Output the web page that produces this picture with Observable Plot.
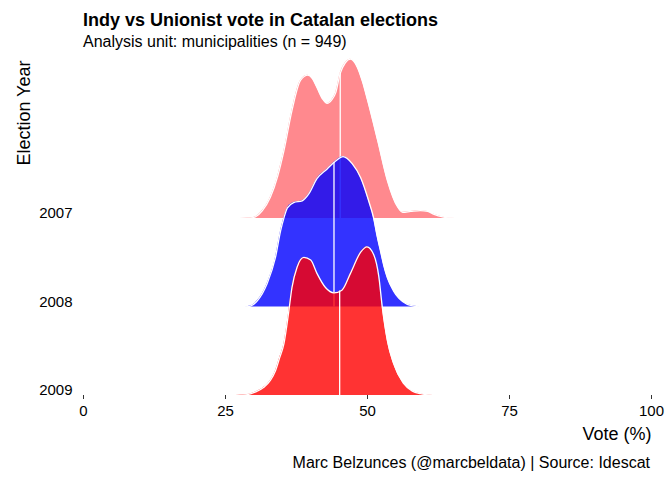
<!DOCTYPE html>
<html>
<head>
<meta charset="utf-8">
<script src="https://cdn.jsdelivr.net/npm/d3@7"></script>
<script src="https://cdn.jsdelivr.net/npm/@observablehq/plot@0.6"></script>
<style>
  body { margin: 0; background: #fff; font-family: "Liberation Sans", Arial, Helvetica, sans-serif; }
  #wrap { position: relative; width: 672px; height: 480px; overflow: hidden; }
  .t { position: absolute; white-space: nowrap; color: #000; line-height: 1; }
  #title { left: 83px; top: 11px; font-size: 18px; font-weight: bold; }
  #subtitle { left: 83px; top: 34px; font-size: 16px; }
  #caption { right: 22px; top: 455px; font-size: 16px; }
  #chart { position: absolute; left: 0; top: 52px; }
</style>
</head>
<body>
<div id="wrap">
  <div id="title" class="t">Indy vs Unionist vote in Catalan elections</div>
  <div id="subtitle" class="t">Analysis unit: municipalities (n = 949)</div>
  <div id="chart"></div>
  <div id="caption" class="t">Marc Belzunces (@marcbeldata) | Source: Idescat</div>
</div>
<script>
// ---- Data ----
const years = ["2007", "2008", "2009"];

// density heights, in units of ridge spacing
const vote2007 = [27.6, 29.4, 30.3, 31.5, 32.9, 34.2, 35.3, 36.7, 38.2, 39.5, 40.3, 41.1, 42.1, 42.9, 43.7, 44.4, 45.2, 46.1, 47.0, 48.2, 49.1, 50.0, 51.8, 53.5, 55.3, 56.2, 57.6, 59.3, 60.6, 61.6, 63.4, 65.5];
const dens2007 = [0, 0.005, 0.02, 0.09, 0.24, 0.48, 0.77, 1.22, 1.56, 1.62, 1.58, 1.48, 1.35, 1.30, 1.34, 1.42, 1.64, 1.76, 1.80, 1.71, 1.55, 1.34, 0.88, 0.43, 0.13, 0.07, 0.08, 0.09, 0.08, 0.05, 0.015, 0];

const vote2008 = [28.5, 29.4, 30.6, 32.3, 33.8, 34.7, 35.3, 35.9, 37.0, 38.5, 39.7, 41.1, 42.9, 44.4, 45.7, 47.3, 48.8, 50.2, 51.1, 51.7, 52.3, 52.9, 53.5, 54.6, 55.5, 57.0, 58.1, 59.3];
const dens2008 = [0, 0.01, 0.07, 0.26, 0.56, 0.86, 1.01, 1.12, 1.18, 1.20, 1.28, 1.45, 1.56, 1.65, 1.70, 1.62, 1.46, 1.20, 1.00, 0.80, 0.63, 0.46, 0.33, 0.18, 0.10, 0.03, 0.01, 0];

const vote2009 = [26.8, 28.9, 30.3, 31.7, 32.9, 33.8, 34.5, 35.3, 36.1, 36.7, 37.6, 38.8, 40.0, 41.1, 42.6, 44.1, 45.5, 47.0, 48.8, 49.9, 51.1, 52.0, 52.6, 53.5, 54.6, 56.3, 57.9, 59.3, 61.6];
const dens2009 = [0, 0.01, 0.04, 0.09, 0.17, 0.28, 0.42, 0.59, 0.93, 1.22, 1.45, 1.56, 1.53, 1.38, 1.22, 1.16, 1.19, 1.38, 1.62, 1.68, 1.59, 1.34, 1.00, 0.62, 0.36, 0.14, 0.05, 0.02, 0];

const medians = [45.2, 44.1, 45.1];
const fills = ["#ff6b72", "#0000ff", "#ff0000"];
const xTicks = [0, 25, 50, 75, 100];

// ---- Build tables ----
const votes = [vote2007, vote2008, vote2009];
const dens = [dens2007, dens2008, dens2009];
const baseOf = i => years.length - i; // 2007 on top

function heightAt(xs, ds, v) {
  const i = Math.min(Math.max(d3.bisectRight(xs, v), 1), xs.length - 1);
  const t = (v - xs[i - 1]) / (xs[i] - xs[i - 1]);
  return ds[i - 1] + (ds[i] - ds[i - 1]) * t;
}

const marks = [];
years.forEach((yr, i) => {
  const base = baseOf(i);
  const pts = votes[i].map((x, j) => ({x, base, top: base + dens[i][j]}));
  const med = [{x: medians[i], base, top: base + heightAt(votes[i], dens[i], medians[i])}];
  marks.push(Plot.areaY(pts, {x: "x", y1: "base", y2: "top", fill: fills[i], fillOpacity: 0.8, curve: "monotone-x"}));
  marks.push(Plot.lineY(pts, {x: "x", y: "top", stroke: "white", strokeWidth: 1.3, curve: "monotone-x"}));
  marks.push(Plot.ruleX(med, {x: "x", y1: "base", y2: "top", stroke: "white", strokeWidth: 1.3}));
});

const chart = Plot.plot({
  width: 672,
  height: 400,
  marginLeft: 83,
  marginRight: 21,
  marginTop: 6,
  marginBottom: 57,
  style: {fontFamily: "'Liberation Sans', Arial, Helvetica, sans-serif", color: "#000", background: "white"},
  x: {domain: [0, 100]},
  y: {domain: [1, 4.808]},
  marks: [
    ...marks,
    Plot.axisX(xTicks, {tickSize: 4, tickPadding: 6, fontSize: 15, stroke: "#333", label: null}),
    Plot.axisY(years.map((_, i) => baseOf(i)), {
      tickSize: 0, tickPadding: 11, fontSize: 15, dy: -5, label: null,
      tickFormat: v => years[years.length - v]
    }),
    Plot.text(["Election Year"], {frameAnchor: "top-left", text: d => d, rotate: -90, textAnchor: "end", dx: -66, dy: 2, fontSize: 18}),
    Plot.text(["Vote (%)"], {frameAnchor: "bottom-right", text: d => d, textAnchor: "end", dy: 44, fontSize: 18})
  ]
});
document.getElementById("chart").appendChild(chart);
</script>
</body>
</html>
